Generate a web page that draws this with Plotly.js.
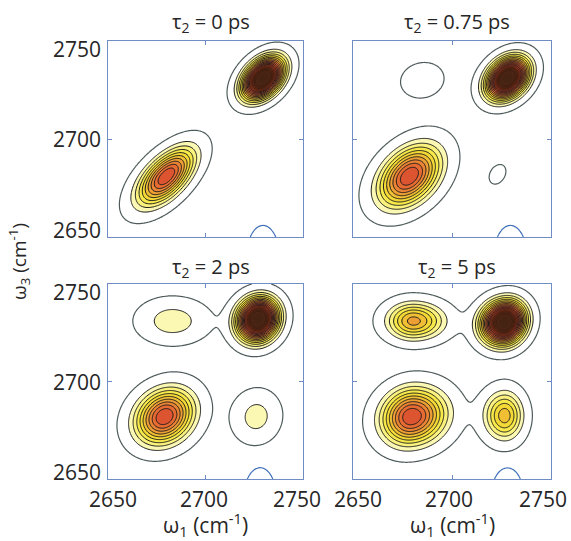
<!DOCTYPE html>
<html><head><meta charset="utf-8">
<script src="https://cdn.plot.ly/plotly-3.0.1.min.js"></script>
<style>html,body{margin:0;padding:0;background:#fff;} #chart{width:571px;height:541px;}</style>
</head><body><div id="chart"></div>
<script>
// ---- axes ----
const w1Range = [2650, 2750];
const w3Range = [2650, 2750];
const tickValues = [2650, 2700, 2750];
const tickLabels = ['2650', '2700', '2750'];
const panelTitles = ['τ<sub>2</sub> = 0 ps', 'τ<sub>2</sub> = 0.75 ps', 'τ<sub>2</sub> = 2 ps', 'τ<sub>2</sub> = 5 ps'];
const xTitle = 'ω<sub>1</sub> (cm<sup>-1</sup>)';
const yTitle = 'ω<sub>3</sub> (cm<sup>-1</sup>)';

// ---- peaks ----
// centre (w1, w3), amplitude, widths on the left/right (w1) and below/above (w3), tilt
// tau2 = 0 ps
const w1_0ps  = [2680, 2729.5, 2729.5];
const w3_0ps  = [2681, 2731, 2640];
const amp_0ps = [0.55, 1.0, -0.3];
const sxl_0ps = [9.9, 6.9, 3.85];
const sxr_0ps = [9.6, 6.9, 3.85];
const syd_0ps = [9.9, 6.9, 7.3];
const syu_0ps = [9.6, 6.9, 7.3];
const rho_0ps = [0.6, 0.395, 0];
// tau2 = 0.75 ps
const w1_075ps  = [2678.5, 2728, 2685, 2723, 2729.5];
const w3_075ps  = [2681, 2731, 2730, 2682, 2640];
const amp_075ps = [0.55, 1.0, 0.05, 0.04, -0.3];
const sxl_075ps = [10.45, 6.8, 10.2, 5.0, 3.85];
const sxr_075ps = [10.45, 6.8, 10.2, 5.0, 3.85];
const syd_075ps = [10.45, 6.8, 8.4, 5.9, 7.3];
const syu_075ps = [10.45, 6.8, 8.4, 5.9, 7.3];
const rho_075ps = [0.385, 0.3, 0.1, 0.3, 0];
// tau2 = 2 ps
const w1_2ps  = [2679, 2727, 2683, 2726, 2728];
const w3_2ps  = [2682, 2732, 2731, 2682, 2640];
const amp_2ps = [0.55, 1.0, 0.14, 0.13, -0.3];
const sxl_2ps = [10.0, 6.9, 11.3, 7.8, 3.85];
const sxr_2ps = [10.0, 6.7, 11.8, 7.8, 3.85];
const syd_2ps = [9.4, 7.2, 7.2, 8.5, 7.3];
const syu_2ps = [9.4, 7.0, 7.2, 8.5, 7.3];
const rho_2ps = [0.2, 0.1, 0, 0.05, 0];
// tau2 = 5 ps
const w1_5ps  = [2679.5, 2726.6, 2680.5, 2726.6, 2728];
const w3_5ps  = [2682, 2730.5, 2731, 2682.5, 2640];
const amp_5ps = [0.55, 1.0, 0.37, 0.33, -0.3];
const sxl_5ps = [10.1, 7.5, 9.0, 7.0, 3.85];
const sxr_5ps = [11.5, 6.7, 10.5, 6.3, 3.85];
const syd_5ps = [9.6, 7.2, 6.4, 8.4, 7.3];
const syu_5ps = [9.6, 7.0, 6.4, 8.4, 7.3];
const rho_5ps = [0.1, 0.1, 0, 0, 0];

// ---- contour levels & colours ----
const outerLevel = 0.028;
const negLevel = -0.028;
const fillStart = 0.10, fillEnd = 1.0, fillStep = 0.05;
const darkLineStart = 0.60, highLineStart = 0.65, highLineEnd = 0.85;
const colorZ   = [0.075, 0.125, 0.175, 0.225, 0.275, 0.325, 0.375, 0.425, 0.475, 0.525, 0.575, 0.625, 0.675, 0.725, 0.80, 0.90, 1.025];
const colorHex = ['#ffffff', '#fbf8b4', '#faf27c', '#f7e94a', '#f3d836', '#f0bf34', '#ed9f35', '#ea8334', '#e56b32', '#dd5530', '#c6472b', '#a83c25', '#88331f', '#6c2b1a', '#592a18', '#4a2514', '#412112'];

// tick-label nudges (pixels) as placed in the picture
const yLabelShift = [7, 0, -8];
const xLabelShiftLeft = [5, -1.5, -6];
const xLabelShiftRight = [4.5, -3, -8.5];

const panels = [
  {w1: w1_0ps, w3: w3_0ps, amp: amp_0ps, sxl: sxl_0ps, sxr: sxr_0ps, syd: syd_0ps, syu: syu_0ps, rho: rho_0ps},
  {w1: w1_075ps, w3: w3_075ps, amp: amp_075ps, sxl: sxl_075ps, sxr: sxr_075ps, syd: syd_075ps, syu: syu_075ps, rho: rho_075ps},
  {w1: w1_2ps, w3: w3_2ps, amp: amp_2ps, sxl: sxl_2ps, sxr: sxr_2ps, syd: syd_2ps, syu: syu_2ps, rho: rho_2ps},
  {w1: w1_5ps, w3: w3_5ps, amp: amp_5ps, sxl: sxl_5ps, sxr: sxr_5ps, syd: syd_5ps, syu: syu_5ps, rho: rho_5ps}
];

// grid for the library's contouring
const gx = [], gy = [];
for (let v = w1Range[0]; v <= w1Range[1] + 1e-9; v += 0.5) gx.push(v);
for (let v = w3Range[0]; v <= w3Range[1] + 1e-9; v += 0.5) gy.push(v);

function surface(p) {
  const z = [];
  for (let j = 0; j < gy.length; j++) {
    const row = [];
    for (let i = 0; i < gx.length; i++) {
      let s = 0;
      for (let k = 0; k < p.amp.length; k++) {
        const ex = gx[i] - p.w1[k], ey = gy[j] - p.w3[k];
        const dx = ex / (ex < 0 ? p.sxl[k] : p.sxr[k]);
        const dy = ey / (ey < 0 ? p.syd[k] : p.syu[k]);
        const r = p.rho[k];
        const q = (dx * dx - 2 * r * dx * dy + dy * dy) / (1 - r * r);
        s += p.amp[k] * Math.exp(-q / 2);
      }
      row.push(s);
    }
    z.push(row);
  }
  return z;
}

const zLo = colorZ[0], zHi = colorZ[colorZ.length - 1];
const colorscale = colorZ.map((v, i) => [(v - zLo) / (zHi - zLo), colorHex[i]]);
colorscale[0][0] = 0; colorscale[colorscale.length - 1][0] = 1;

const xDomains = [[108/571, 303/571], [353/571, 551/571], [108/571, 303/571], [353/571, 551/571]];
const yDomains = [[1 - 237/541, 1 - 41/541], [1 - 237/541, 1 - 41/541], [1 - 479/541, 1 - 284/541], [1 - 479/541, 1 - 284/541]];

const axisColor = '#6f8dc4';
const textFont = 'Open Sans, sans-serif';
const tickFont = {family: textFont, size: 21, color: '#262626'};
const data = [];
const layout = {
  width: 571, height: 541,
  margin: {l: 0, r: 0, t: 0, b: 0},
  paper_bgcolor: '#ffffff', plot_bgcolor: '#ffffff',
  showlegend: false,
  annotations: []
};

function lineTrace(z, xa, ya, start, end, color, width) {
  return {
    type: 'contour', x: gx, y: gy, z: z, xaxis: xa, yaxis: ya, showscale: false,
    contours: {start: start, end: end, size: fillStep, coloring: 'none'},
    line: {color: color, width: width, smoothing: 1},
    hoverinfo: 'skip'
  };
}

panels.forEach((p, n) => {
  const xa = n === 0 ? 'x' : 'x' + (n + 1);
  const ya = n === 0 ? 'y' : 'y' + (n + 1);
  const z = surface(p);
  data.push({
    type: 'contour', x: gx, y: gy, z: z, xaxis: xa, yaxis: ya,
    zmin: zLo, zmax: zHi, colorscale: colorscale, showscale: false,
    contours: {start: fillStart, end: fillEnd, size: fillStep, coloring: 'fill', showlines: false},
    line: {width: 0, smoothing: 1},
    hoverinfo: 'skip'
  });
  data.push(lineTrace(z, xa, ya, fillStart, darkLineStart, '#1a1a1a', 1.0));
  data.push(lineTrace(z, xa, ya, highLineStart, highLineEnd, '#2e170c', 0.6));
  data.push(lineTrace(z, xa, ya, outerLevel, outerLevel, '#4f5b5b', 1.2));
  data.push(lineTrace(z, xa, ya, negLevel, negLevel, '#3d6fb8', 1.2));

  const common = {
    tickmode: 'array', tickvals: tickValues, ticktext: tickLabels, showticklabels: false,
    ticks: 'inside', ticklen: 4, tickcolor: axisColor, showline: true, linecolor: axisColor, linewidth: 1,
    mirror: 'ticks', showgrid: false, zeroline: false, fixedrange: true
  };
  const xName = n === 0 ? 'xaxis' : 'xaxis' + (n + 1);
  const yName = n === 0 ? 'yaxis' : 'yaxis' + (n + 1);
  layout[xName] = Object.assign({}, common, {range: w1Range, domain: xDomains[n], anchor: ya});
  layout[yName] = Object.assign({}, common, {range: w3Range, domain: yDomains[n], anchor: xa});

  // panel title
  const cx = (xDomains[n][0] + xDomains[n][1]) / 2 + 5/571;
  const ty = n < 2 ? 1 - 23/541 : 1 - 267/541;
  layout.annotations.push({
    text: panelTitles[n], xref: 'paper', yref: 'paper', x: cx, y: ty,
    xanchor: 'center', yanchor: 'middle', showarrow: false,
    font: {family: textFont, size: 20, color: '#262626'}
  });

  // y tick labels on the left panels
  if (n % 2 === 0) {
    tickValues.forEach((v, i) => layout.annotations.push({
      text: tickLabels[i], xref: xa + ' domain', yref: ya, x: 0, y: v,
      xanchor: 'right', yanchor: 'middle', xshift: -5, yshift: yLabelShift[i],
      showarrow: false, font: tickFont
    }));
  }
  // x tick labels + x title on the bottom panels
  if (n >= 2) {
    const shifts = n === 2 ? xLabelShiftLeft : xLabelShiftRight;
    tickValues.forEach((v, i) => layout.annotations.push({
      text: tickLabels[i], xref: xa, yref: ya + ' domain', x: v, y: 0,
      xanchor: 'center', yanchor: 'top', xshift: shifts[i], yshift: -4,
      showarrow: false, font: tickFont
    }));
    layout.annotations.push({
      text: xTitle, xref: xa + ' domain', yref: 'paper', x: 0.5, y: 0,
      xanchor: 'center', yanchor: 'bottom', yshift: -2, showarrow: false,
      font: {family: textFont, size: 21, color: '#262626'}
    });
  }
});

layout.annotations.push({
  text: yTitle, xref: 'paper', yref: 'paper', x: 19/571, y: 1 - 262/541,
  xanchor: 'center', yanchor: 'middle', textangle: -90, showarrow: false,
  font: {family: textFont, size: 19, color: '#262626'}
});

Plotly.newPlot('chart', data, layout, {staticPlot: true, displayModeBar: false});
</script>
</body></html>
